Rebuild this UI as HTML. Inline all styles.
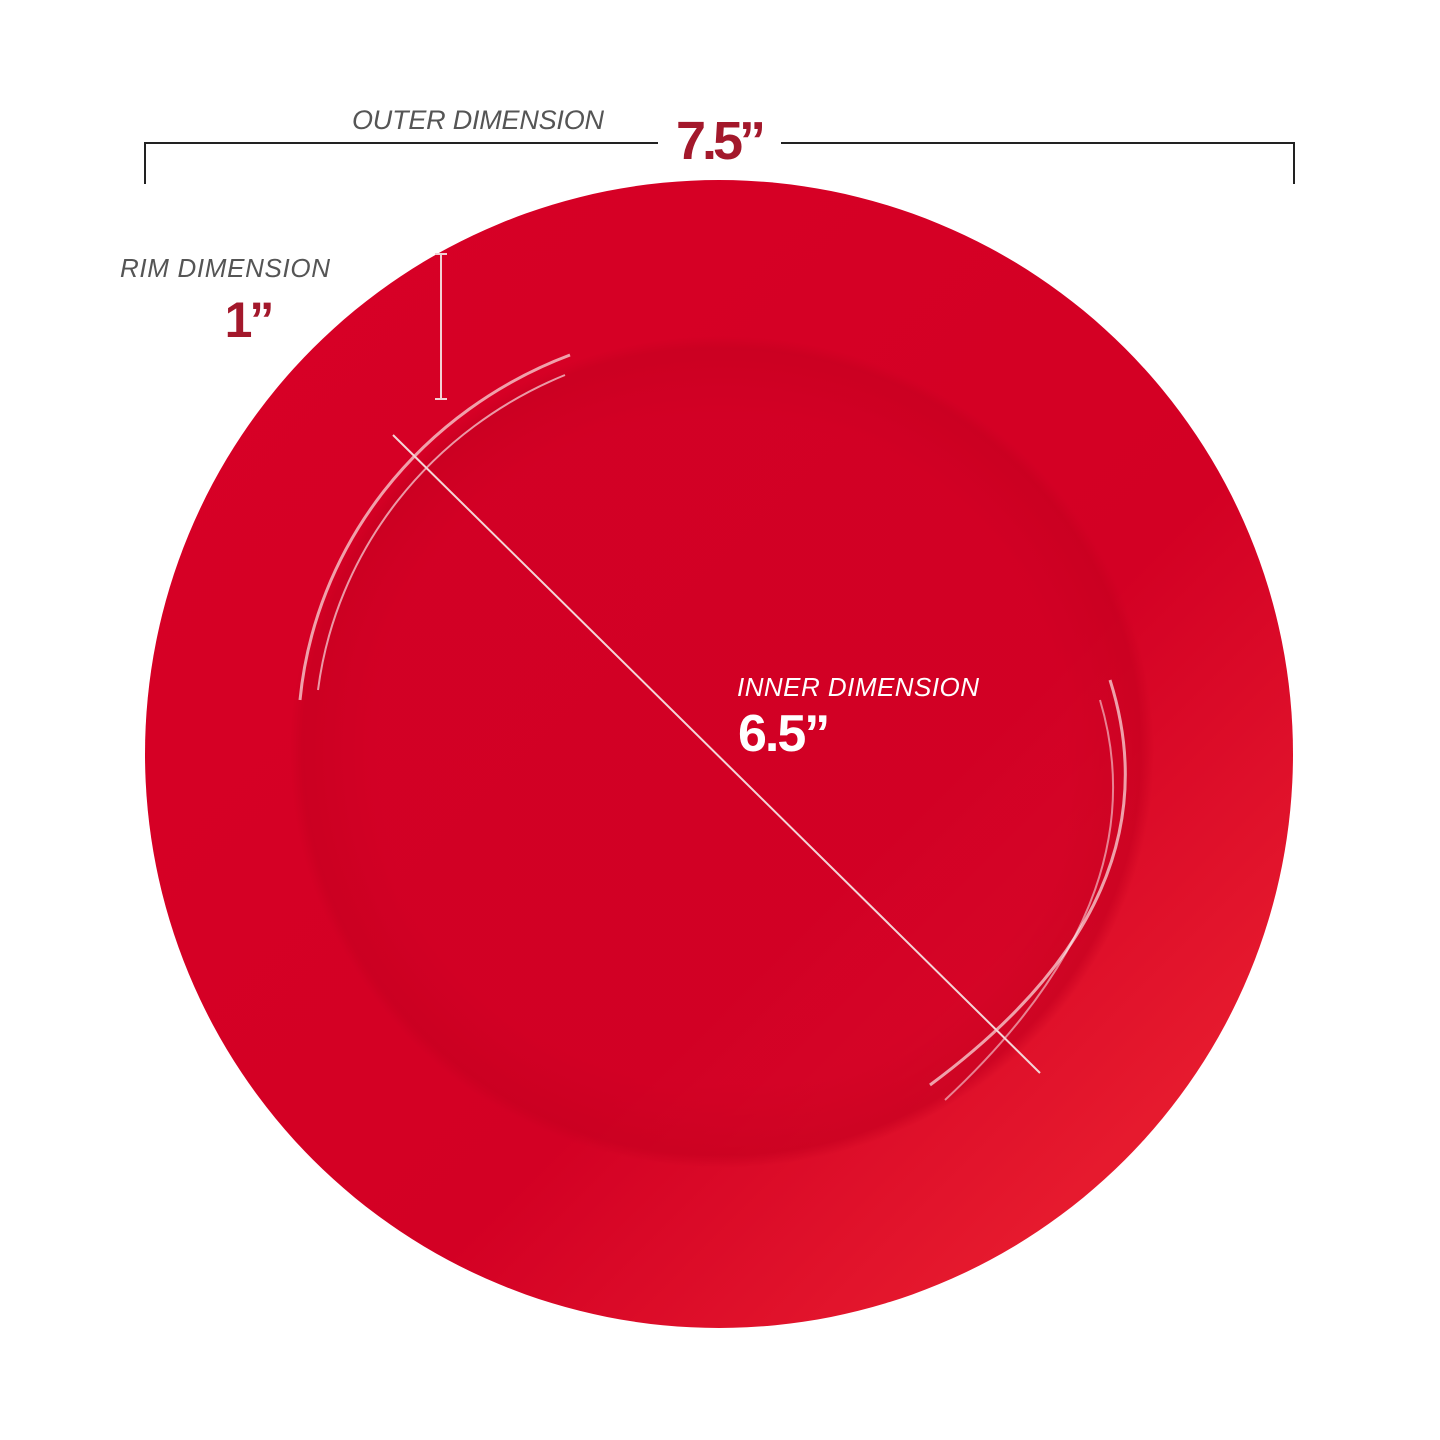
<!DOCTYPE html>
<html><head><meta charset="utf-8"><style>
html,body{margin:0;padding:0;background:#fff;}
svg{display:block;}
text{font-family:"Liberation Sans",sans-serif;}
</style></head><body>
<svg width="1440" height="1440" viewBox="0 0 1440 1440">
<defs>
<linearGradient id="g" x1="0" y1="0" x2="1" y2="1">
<stop offset="0" stop-color="#d80026"/>
<stop offset="0.6" stop-color="#d30024"/>
<stop offset="1" stop-color="#f22a34"/>
</linearGradient>
<radialGradient id="w" cx="0.5" cy="0.5" r="0.5">
<stop offset="0.8" stop-color="#d10025" stop-opacity="0.6"/>
<stop offset="0.97" stop-color="#c70020" stop-opacity="0.7"/>
<stop offset="1" stop-color="#c70020" stop-opacity="0"/>
</radialGradient>
</defs>
<path d="M145 143 H658 M781 143 H1294 M145 142 V184 M1294 142 V184" stroke="#222" stroke-width="2" fill="none"/>
<text x="478" y="129" font-size="27" font-style="italic" fill="#555" text-anchor="middle" textLength="252">OUTER DIMENSION</text>
<text x="719" y="159" font-size="54" font-weight="bold" fill="#a3182b" text-anchor="middle" letter-spacing="-4">7.5”</text>
<text x="225" y="277" font-size="26" font-style="italic" fill="#555" text-anchor="middle" textLength="210">RIM DIMENSION</text>
<text x="248" y="337" font-size="50" font-weight="bold" fill="#a3182b" text-anchor="middle" letter-spacing="-3">1”</text>
<circle cx="719" cy="754" r="574" fill="url(#g)"/>
<ellipse cx="722" cy="752" rx="432" ry="416" fill="url(#w)"/>
<path d="M300 700 A428 412 0 0 1 570 355" stroke="#f6c8cc" stroke-width="3" fill="none" opacity="0.8"/>
<path d="M318 690 A410 395 0 0 1 565 375" stroke="#fff" stroke-width="2" fill="none" opacity="0.6"/>
<path d="M1110 680 Q1180 900 930 1085" stroke="#f6c8cc" stroke-width="3" fill="none" opacity="0.8"/>
<path d="M1100 700 Q1160 900 945 1100" stroke="#fff" stroke-width="2" fill="none" opacity="0.5"/>
<path d="M441 254 V399 M435 254 H447 M435 399 H447" stroke="#f2d0d4" stroke-width="2"/>
<line x1="393" y1="435" x2="1040" y2="1073" stroke="#f4d6d8" stroke-width="2"/>
<text x="737" y="696" font-size="26" font-style="italic" fill="#fff" textLength="242">INNER DIMENSION</text>
<text x="738" y="751" font-size="52" font-weight="bold" fill="#fff" letter-spacing="-2">6.5”</text>
</svg>
</body></html>
